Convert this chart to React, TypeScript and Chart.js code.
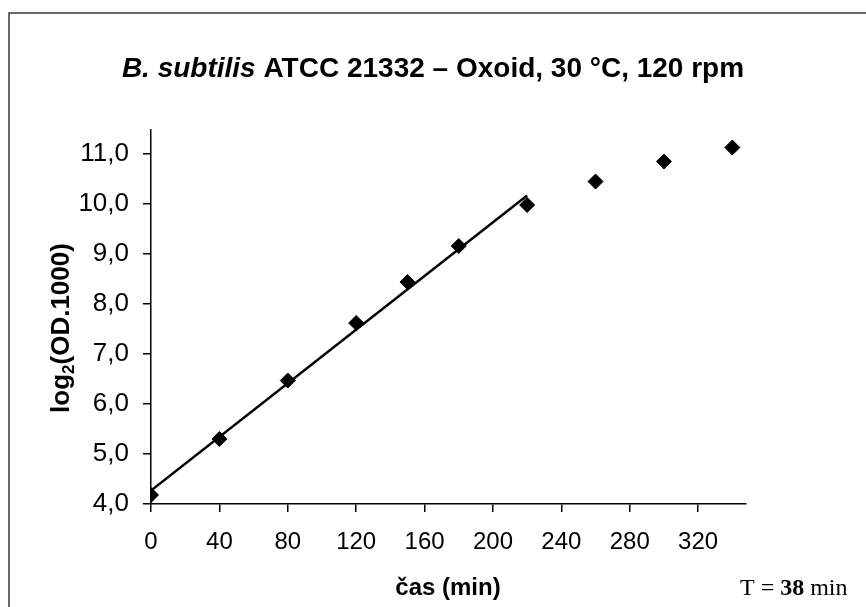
import React, { useEffect, useRef } from "react";
import { Chart, registerables } from "chart.js";

Chart.register(...registerables);

// ---- data ----
const timeMin = [0, 40, 80, 120, 150, 180, 220, 260, 300, 340];
const log2OD = [4.18, 5.3, 6.47, 7.62, 8.44, 9.16, 9.98, 10.45, 10.85, 11.13];
const trendX = [0, 220];
const trendY = [4.27, 10.17];
const xTicks = [0, 40, 80, 120, 160, 200, 240, 280, 320];
const yTicks = [4, 5, 6, 7, 8, 9, 10, 11];
const titleItalic = "B. subtilis";
const titleRest = " ATCC 21332 – Oxoid, 30 °C, 120 rpm";
const yLabelParts = ["log", "2", "(OD.1000)"];
const xLabel = "čas (min)";
const noteParts = ["T = ", "38", " min"];

const SANS = '"Liberation Sans", Arial, sans-serif';
const SERIF = '"Liberation Serif", "Times New Roman", serif';

const textPlugin = {
  id: "customText",
  beforeDraw(chart: any) {
    const ctx = chart.ctx as CanvasRenderingContext2D;
    ctx.save();
    ctx.fillStyle = "#ffffff";
    ctx.fillRect(0, 0, chart.width, chart.height);
    // frame (top and left edges)
    ctx.strokeStyle = "#3a3a3a";
    ctx.lineWidth = 1.5;
    ctx.beginPath();
    ctx.moveTo(9, chart.height);
    ctx.lineTo(9, 13);
    ctx.lineTo(chart.width, 13);
    ctx.stroke();
    ctx.restore();
  },
  afterDraw(chart: any) {
    const ctx = chart.ctx as CanvasRenderingContext2D;
    ctx.save();
    ctx.fillStyle = "#000000";
    ctx.textBaseline = "alphabetic";
    ctx.textAlign = "left";

    // title with italic species name
    const fItal = `italic bold 28px ${SANS}`;
    const fBold = `bold 28px ${SANS}`;
    ctx.font = fItal;
    const w1 = ctx.measureText(titleItalic).width;
    ctx.font = fBold;
    const w2 = ctx.measureText(titleRest).width;
    const tx = 433 - (w1 + w2) / 2;
    ctx.font = fItal;
    ctx.fillText(titleItalic, tx, 77);
    ctx.font = fBold;
    ctx.fillText(titleRest, tx + w1, 77);

    // y axis label, rotated, with subscript 2
    const fY = `bold 26px ${SANS}`;
    const fSub = `bold 17px ${SANS}`;
    ctx.font = fY;
    const a = ctx.measureText(yLabelParts[0]).width;
    const c = ctx.measureText(yLabelParts[2]).width;
    ctx.font = fSub;
    const b = ctx.measureText(yLabelParts[1]).width;
    ctx.save();
    ctx.translate(69, 328);
    ctx.rotate(-Math.PI / 2);
    const x0 = -(a + b + c) / 2;
    ctx.font = fY;
    ctx.fillText(yLabelParts[0], x0, 0);
    ctx.font = fSub;
    ctx.fillText(yLabelParts[1], x0 + a, 5);
    ctx.font = fY;
    ctx.fillText(yLabelParts[2], x0 + a + b, 0);
    ctx.restore();

    // x axis label
    ctx.font = `bold 24px ${SANS}`;
    ctx.textAlign = "center";
    ctx.fillText(xLabel, 448, 595);

    // doubling time note
    ctx.textAlign = "left";
    const fN = `24px ${SERIF}`;
    const fNB = `bold 24px ${SERIF}`;
    let nx = 740;
    ctx.font = fN;
    ctx.fillText(noteParts[0], nx, 595);
    nx += ctx.measureText(noteParts[0]).width;
    ctx.font = fNB;
    ctx.fillText(noteParts[1], nx, 595);
    nx += ctx.measureText(noteParts[1]).width;
    ctx.font = fN;
    ctx.fillText(noteParts[2], nx, 595);
    ctx.restore();
  },
};

export default function App() {
  const ref = useRef<HTMLCanvasElement | null>(null);

  useEffect(() => {
    if (!ref.current) return;
    const chart = new Chart(ref.current, {
      type: "scatter",
      data: {
        datasets: [
          {
            label: "měření",
            data: timeMin.map((t, i) => ({ x: t, y: log2OD[i] })),
            pointStyle: "rectRot",
            pointRadius: 7.5,
            pointBackgroundColor: "#000000",
            pointBorderColor: "#000000",
            pointBorderWidth: 1,
            showLine: false,
            order: 1,
          },
          {
            label: "trend",
            data: trendX.map((t, i) => ({ x: t, y: trendY[i] })),
            showLine: true,
            borderColor: "#000000",
            borderWidth: 2.5,
            pointRadius: 0,
            order: 2,
          },
        ],
      },
      options: {
        animation: false,
        responsive: false,
        layout: { padding: { left: 0, top: 130, right: 120, bottom: 0 } },
        plugins: {
          legend: { display: false },
          tooltip: { enabled: false },
          title: { display: false },
        },
        scales: {
          x: {
            type: "linear",
            min: 0,
            max: 348,
            afterBuildTicks: (scale: any) => {
              scale.ticks = xTicks.map((v) => ({ value: v }));
            },
            afterFit: (scale: any) => {
              scale.height = 103;
            },
            ticks: {
              color: "#000000",
              font: { family: SANS, size: 24 },
              padding: 16,
              maxRotation: 0,
              autoSkip: false,
              callback: (v: any) => String(v),
            },
            grid: {
              drawOnChartArea: false,
              drawTicks: true,
              tickLength: 8,
              color: "#000000",
              lineWidth: 1.5,
            },
            border: { display: true, color: "#000000", width: 1.5 },
          },
          y: {
            type: "linear",
            min: 4,
            max: 11.48,
            afterBuildTicks: (scale: any) => {
              scale.ticks = yTicks.map((v) => ({ value: v }));
            },
            afterFit: (scale: any) => {
              scale.width = 151;
            },
            ticks: {
              color: "#000000",
              font: { family: SANS, size: 26 },
              padding: 14,
              autoSkip: false,
              callback: (v: any) => Number(v).toFixed(1).replace(".", ","),
            },
            grid: {
              drawOnChartArea: false,
              drawTicks: true,
              tickLength: 8,
              color: "#000000",
              lineWidth: 1.5,
            },
            border: { display: true, color: "#000000", width: 1.5 },
          },
        },
      },
      plugins: [textPlugin],
    });
    return () => chart.destroy();
  }, []);

  return (
    <div style={{ position: "absolute", left: 0, top: 0, width: 866, height: 607 }}>
      <canvas ref={ref} width={866} height={607} style={{ display: "block" }} />
    </div>
  );
}
